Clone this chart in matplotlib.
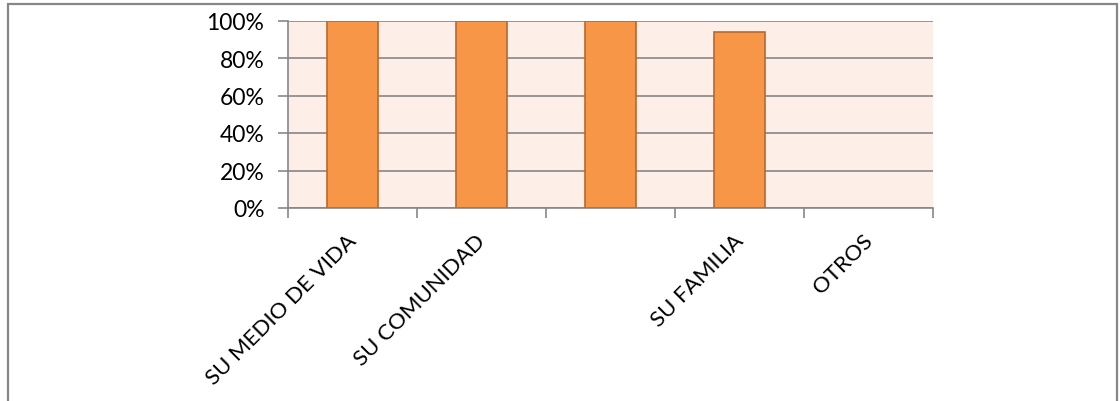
import matplotlib.pyplot as plt
import matplotlib.transforms as mtransforms
from matplotlib.patches import Rectangle
from matplotlib.ticker import FixedLocator, PercentFormatter

# datos
categorias = ['SU MEDIO DE VIDA', 'SU COMUNIDAD', '', 'SU FAMILIA', 'OTROS']
valores = [1.00, 1.00, 1.00, 0.94, 0.0]

plt.rcParams['font.family'] = ['Lato', 'DejaVu Sans']

fig = plt.figure(figsize=(11.2, 4.02), dpi=100)

# marco exterior del gráfico
fig.patches.append(Rectangle((8 / 1120, -0.05), (1117 - 8) / 1120, 1.05 - 5 / 402,
                             transform=fig.transFigure, fill=False,
                             edgecolor='#878787', linewidth=1.6))

ax = fig.add_axes([288 / 1120, 1 - 209 / 402, (933 - 288) / 1120, (209 - 21.5) / 402])
ax.set_facecolor('#FDEEE8')

x = list(range(len(categorias)))
ax.bar(x, valores, width=0.4, color='#F79646', edgecolor='#B8692E',
       linewidth=[1.2 if v > 0 else 0 for v in valores], zorder=3)

ax.set_xlim(-0.5, len(categorias) - 0.5)
ax.set_ylim(0, 1)
ax.set_yticks([0, 0.2, 0.4, 0.6, 0.8, 1.0])
ax.yaxis.set_major_formatter(PercentFormatter(1.0, decimals=0))
ax.grid(axis='y', color='#878787', linewidth=1.2, zorder=1)

# ticks en los límites de categoría
ax.xaxis.set_major_locator(FixedLocator([i - 0.5 for i in range(len(categorias) + 1)]))
ax.set_xticklabels([])
ax.xaxis.set_minor_locator(FixedLocator(x))
ax.set_xticklabels(categorias, minor=True, rotation=45, ha='right',
                   rotation_mode='anchor', fontsize=16)
ax.tick_params(axis='x', which='minor', length=0, pad=16)
ax.tick_params(axis='x', which='major', length=7, color='#878787', width=1.2)
ax.tick_params(axis='y', length=7, color='#878787', width=1.2, labelsize=16.5, pad=10)

# desplazar etiquetas un poco a la izquierda
shift = mtransforms.ScaledTranslation(-6 / 100, 0, fig.dpi_scale_trans)
for lbl in ax.get_xticklabels(minor=True):
    lbl.set_transform(lbl.get_transform() + shift)

for s in ['top', 'right']:
    ax.spines[s].set_visible(False)
for s in ['left', 'bottom']:
    ax.spines[s].set_color('#878787')
    ax.spines[s].set_linewidth(1.2)

fig.savefig('out.png', dpi=100)
